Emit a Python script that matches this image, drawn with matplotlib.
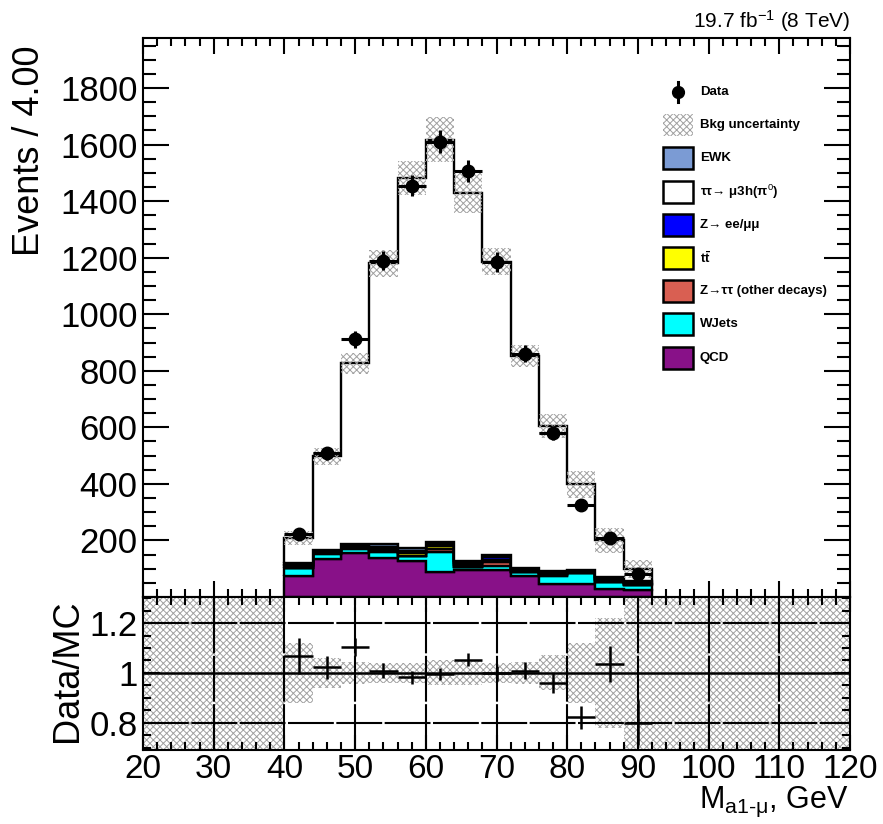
import matplotlib
matplotlib.use("Agg")
import matplotlib.pyplot as plt
import numpy as np
from matplotlib.lines import Line2D
from matplotlib.patches import Rectangle
from matplotlib.ticker import MultipleLocator

plt.rcParams["font.family"] = ["Liberation Sans", "DejaVu Sans"]
plt.rcParams["mathtext.fontset"] = "custom"
plt.rcParams["mathtext.rm"] = "Liberation Sans"
plt.rcParams["mathtext.it"] = "Liberation Sans:italic"
plt.rcParams["mathtext.bf"] = "Liberation Sans:bold"
plt.rcParams["hatch.linewidth"] = 0.7

# binning: 4 GeV bins from 40 to 92
bin_edges = [40, 44, 48, 52, 56, 60, 64, 68, 72, 76, 80, 84, 88, 92]

data = [222, 508, 912, 1190, 1455, 1610, 1506, 1184, 861, 580, 327, 207, 80]

# stacked backgrounds, bottom -> top
qcd = [76, 135, 156, 137, 127, 88, 94, 94, 73, 47, 47, 29, 23]
wjets = [26, 18, 14, 22, 17, 71, 11, 17, 15, 29, 37, 23, 18]
ztt_other = [2, 2, 2, 2, 2, 12, 2, 12, 2, 1, 1, 1, 1]
ttbar = [5, 4, 5, 8, 9, 8, 7, 9, 4, 5, 3, 6, 4]
zll = [5, 4, 4, 8, 9, 7, 6, 8, 4, 4, 3, 6, 4]
ewk = [6, 4, 5, 9, 10, 8, 7, 9, 4, 5, 3, 7, 5]
signal = [88, 330, 640, 994, 1307, 1424, 1303, 1037, 751, 513, 304, 128, 45]

# relative background uncertainty per bin
rel_unc = [0.12, 0.06, 0.045, 0.04, 0.04, 0.05, 0.05, 0.04, 0.045, 0.07, 0.12, 0.22, 0.32]

TT = r"$\mathbf{t\bar{t}}$"
SIG = r"ττ→ μ3h(π$^{0}$)"
colors = {
    "QCD": "#881188",
    "WJets": "#00ffff",
    "Z→ττ (other decays)": "#d95f52",
    TT: "#ffff00",
    "Z→ ee/μμ": "#0000ff",
    "EWK": "#7b9bd4",
    SIG: "#ffffff",
}
stack = [
    ("QCD", qcd),
    ("WJets", wjets),
    ("Z→ττ (other decays)", ztt_other),
    (TT, ttbar),
    ("Z→ ee/μμ", zll),
    ("EWK", ewk),
    (SIG, signal),
]
legend_order = ["EWK", SIG, "Z→ ee/μμ", TT, "Z→ττ (other decays)", "WJets", "QCD"]

edges = np.array(bin_edges, dtype=float)
centers = 0.5 * (edges[:-1] + edges[1:])
half_w = 0.5 * (edges[1:] - edges[:-1])
data = np.array(data, dtype=float)

W, H = 883, 824
fig = plt.figure(figsize=(W / 100, H / 100), dpi=100)
ax = fig.add_axes([143 / W, 1 - 597 / H, 707 / W, 559 / H])
rax = fig.add_axes([143 / W, 1 - 750 / H, 707 / W, 153 / H])

# ---- main panel ----
bottom = np.zeros(len(data))
for name, vals in stack:
    vals = np.array(vals, dtype=float)
    ax.stairs(bottom + vals, edges, baseline=bottom.copy(), fill=True,
              facecolor=colors[name], edgecolor="black", linewidth=1.7, zorder=2)
    bottom = bottom + vals
total = bottom

hatch_kw = dict(facecolor="none", edgecolor="#a0a0a0", hatch="xxxxx", linewidth=0)
unc = total * np.array(rel_unc)
ax.stairs(total + unc, edges, baseline=total - unc, fill=True, zorder=3, **hatch_kw)

ax.errorbar(centers, data, xerr=half_w, yerr=np.sqrt(data), fmt="o", color="black",
            markersize=9, elinewidth=2.2, capsize=0, zorder=5)

ax.set_xlim(20, 120)
ax.set_ylim(0, 1977)
ax.set_yticks(range(200, 1801, 200))
ax.yaxis.set_minor_locator(MultipleLocator(50))
ax.xaxis.set_major_locator(MultipleLocator(10))
ax.xaxis.set_minor_locator(MultipleLocator(2))
ax.tick_params(axis="both", which="both", direction="in", top=True, right=True,
               labelbottom=False, width=1.5, labelsize=25, pad=4)
ax.tick_params(axis="y", which="major", length=19)
ax.tick_params(axis="y", which="minor", length=9.5)
ax.tick_params(axis="x", which="major", length=11.5)
ax.tick_params(axis="x", which="minor", length=6)
for s in ax.spines.values():
    s.set_linewidth(1.5)

# ---- ratio panel ----
ratio = data / total
ratio_err = np.sqrt(data) / total
rax.stairs(1 + np.array(rel_unc), edges, baseline=1 - np.array(rel_unc), fill=True,
           zorder=1, **hatch_kw)
rax.fill_between([20, edges[0]], 0.5, 1.5, zorder=1, **hatch_kw)
rax.fill_between([edges[-1], 120], 0.5, 1.5, zorder=1, **hatch_kw)

grid_ls = (0, (22, 1.2))
for gx in range(30, 111, 10):
    rax.axvline(gx, color="black", linewidth=1.5, linestyle=grid_ls, zorder=2)
for gy in (0.8, 1.2):
    rax.axhline(gy, color="black", linewidth=1.5, linestyle=grid_ls, zorder=2)
rax.axhline(1.0, color="black", linewidth=1.8, zorder=2)

rax.errorbar(centers, ratio, xerr=half_w, yerr=ratio_err, fmt="none", ecolor="black",
             elinewidth=1.8, capsize=0, zorder=4)

rax.set_xlim(20, 120)
rax.set_ylim(0.69, 1.305)
rax.set_yticks([0.8, 1.0, 1.2])
rax.set_yticklabels(["0.8", "1", "1.2"])
rax.yaxis.set_minor_locator(MultipleLocator(0.05))
rax.xaxis.set_major_locator(MultipleLocator(10))
rax.xaxis.set_minor_locator(MultipleLocator(2))
rax.tick_params(axis="both", which="both", direction="in", top=True, right=True,
                width=1.5, labelsize=24, pad=3)
rax.tick_params(axis="y", labelsize=25, pad=4)
rax.tick_params(axis="x", which="major", length=11)
rax.tick_params(axis="x", which="minor", length=6)
rax.tick_params(axis="y", which="major", length=12)
rax.tick_params(axis="y", which="minor", length=6)
for s in rax.spines.values():
    s.set_linewidth(1.5)

# ---- labels ----
fig.text(30 / W, 1 - 45 / H, "Events / 4.00", rotation=90, ha="center", va="top", fontsize=26)
fig.text(68 / W, 1 - 671 / H, "Data/MC", rotation=90, ha="center", va="center", fontsize=26)
fig.text(849 / W, 1 - 808 / H, r"M$_{\mathrm{a1}\text{-}\mathrm{μ}}$, GeV", ha="right",
         va="baseline", fontsize=22)
fig.text(850 / W, 1 - 28 / H, r"19.7 fb$^{\mathrm{-1}}$ (8 TeV)", ha="right",
         va="baseline", fontsize=15)

# ---- legend (drawn by hand in pixel positions) ----
def fx(px):
    return px / W

def fy(py):
    return 1 - py / H

leg_x0, leg_x1, leg_y0, leg_dy, box_h = 663, 693, 92, 33.2, 22
fig.add_artist(Line2D([fx(678), fx(678)], [fy(leg_y0 - 10), fy(leg_y0 + 10)],
                      color="black", linewidth=2.2))
fig.add_artist(Line2D([fx(678)], [fy(leg_y0)], marker="o", markersize=8.5,
                      color="black", linestyle="none"))
fig.text(fx(700), fy(leg_y0), "Data", fontsize=9.5, fontweight="bold", va="center")

yy = leg_y0 + leg_dy
fig.add_artist(Rectangle((fx(leg_x0), fy(yy + box_h / 2)), (leg_x1 - leg_x0) / W, box_h / H,
                         transform=fig.transFigure, **hatch_kw))
fig.text(fx(700), fy(yy), "Bkg uncertainty", fontsize=9.5, fontweight="bold", va="center")

for i, name in enumerate(legend_order):
    yy = leg_y0 + (i + 2) * leg_dy
    fig.add_artist(Rectangle((fx(leg_x0), fy(yy + box_h / 2)), (leg_x1 - leg_x0) / W, box_h / H,
                             transform=fig.transFigure, facecolor=colors[name],
                             edgecolor="black", linewidth=1.8))
    fig.text(fx(700), fy(yy), name, fontsize=9.5, fontweight="bold", va="center")

fig.savefig("out.png", dpi=100)
